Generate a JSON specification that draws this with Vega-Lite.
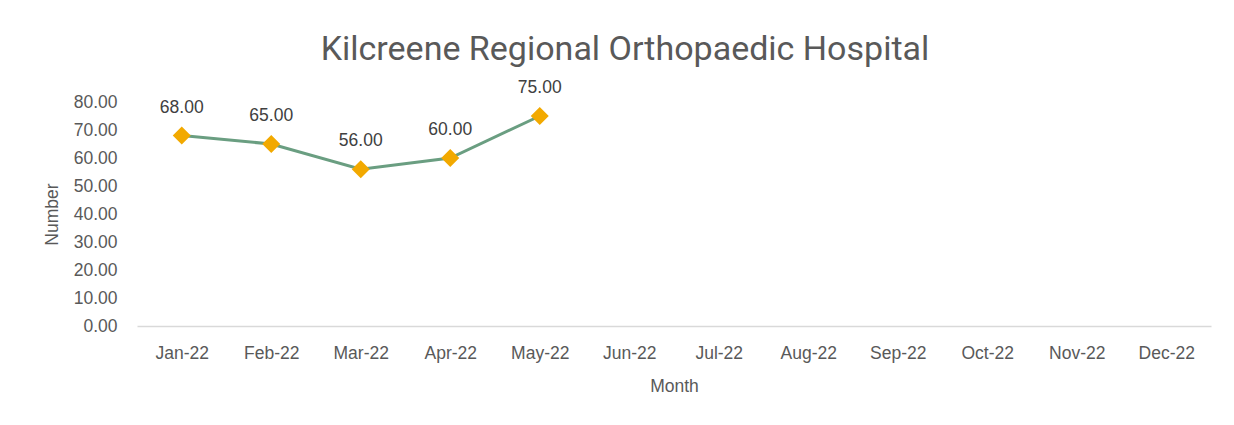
{
  "$schema": "https://vega.github.io/schema/vega-lite/v6.json",
  "width": 1074,
  "height": 224,
  "autosize": "none",
  "padding": {"left": 137, "top": 102, "right": 23, "bottom": 99},
  "background": "white",
  "config": {"view": {"stroke": null}, "font": "Liberation Sans"},
  "title": {
    "text": "Kilcreene Regional Orthopaedic Hospital",
    "font": "Roboto",
    "fontSize": 34,
    "fontWeight": "normal",
    "color": "#595959",
    "anchor": "middle",
    "dx": -49,
    "offset": 12
  },
  "data": {
    "values": [
      {"month": "Jan-22", "value": 68},
      {"month": "Feb-22", "value": 65},
      {"month": "Mar-22", "value": 56},
      {"month": "Apr-22", "value": 60},
      {"month": "May-22", "value": 75}
    ]
  },
  "encoding": {
    "x": {
      "field": "month",
      "type": "ordinal",
      "sort": null,
      "scale": {"domain": ["Jan-22","Feb-22","Mar-22","Apr-22","May-22","Jun-22","Jul-22","Aug-22","Sep-22","Oct-22","Nov-22","Dec-22"]},
      "axis": {
        "title": "Month",
        "labelAngle": 0,
        "domain": true,
        "domainColor": "#d9d9d9",
        "domainWidth": 1.5,
        "ticks": false,
        "tickSize": 0,
        "grid": false,
        "labelPadding": 18,
        "labelFontSize": 17.5,
        "labelColor": "#595959",
        "titleFontSize": 17.5,
        "titleFontWeight": "normal",
        "titleColor": "#595959",
        "titlePadding": 16
      }
    },
    "y": {
      "field": "value",
      "type": "quantitative",
      "scale": {"domain": [0, 80], "nice": false},
      "axis": {
        "title": "Number",
        "values": [0,10,20,30,40,50,60,70,80],
        "format": ".2f",
        "domain": false,
        "ticks": false,
        "tickSize": 0,
        "grid": false,
        "labelPadding": 20,
        "labelFontSize": 17.5,
        "labelColor": "#595959",
        "titleFontSize": 17.5,
        "titleFontWeight": "normal",
        "titleColor": "#595959",
        "titlePadding": 12
      }
    }
  },
  "layer": [
    {"mark": {"type": "line", "color": "#6a9e81", "strokeWidth": 3}},
    {"mark": {"type": "point", "shape": "diamond", "filled": true, "color": "#f2a900", "opacity": 1, "size": 324}},
    {
      "mark": {"type": "text", "dy": -23, "baseline": "alphabetic", "fontSize": 17.5, "color": "#404040"},
      "encoding": {"text": {"field": "value", "type": "quantitative", "format": ".2f"}}
    }
  ]
}
